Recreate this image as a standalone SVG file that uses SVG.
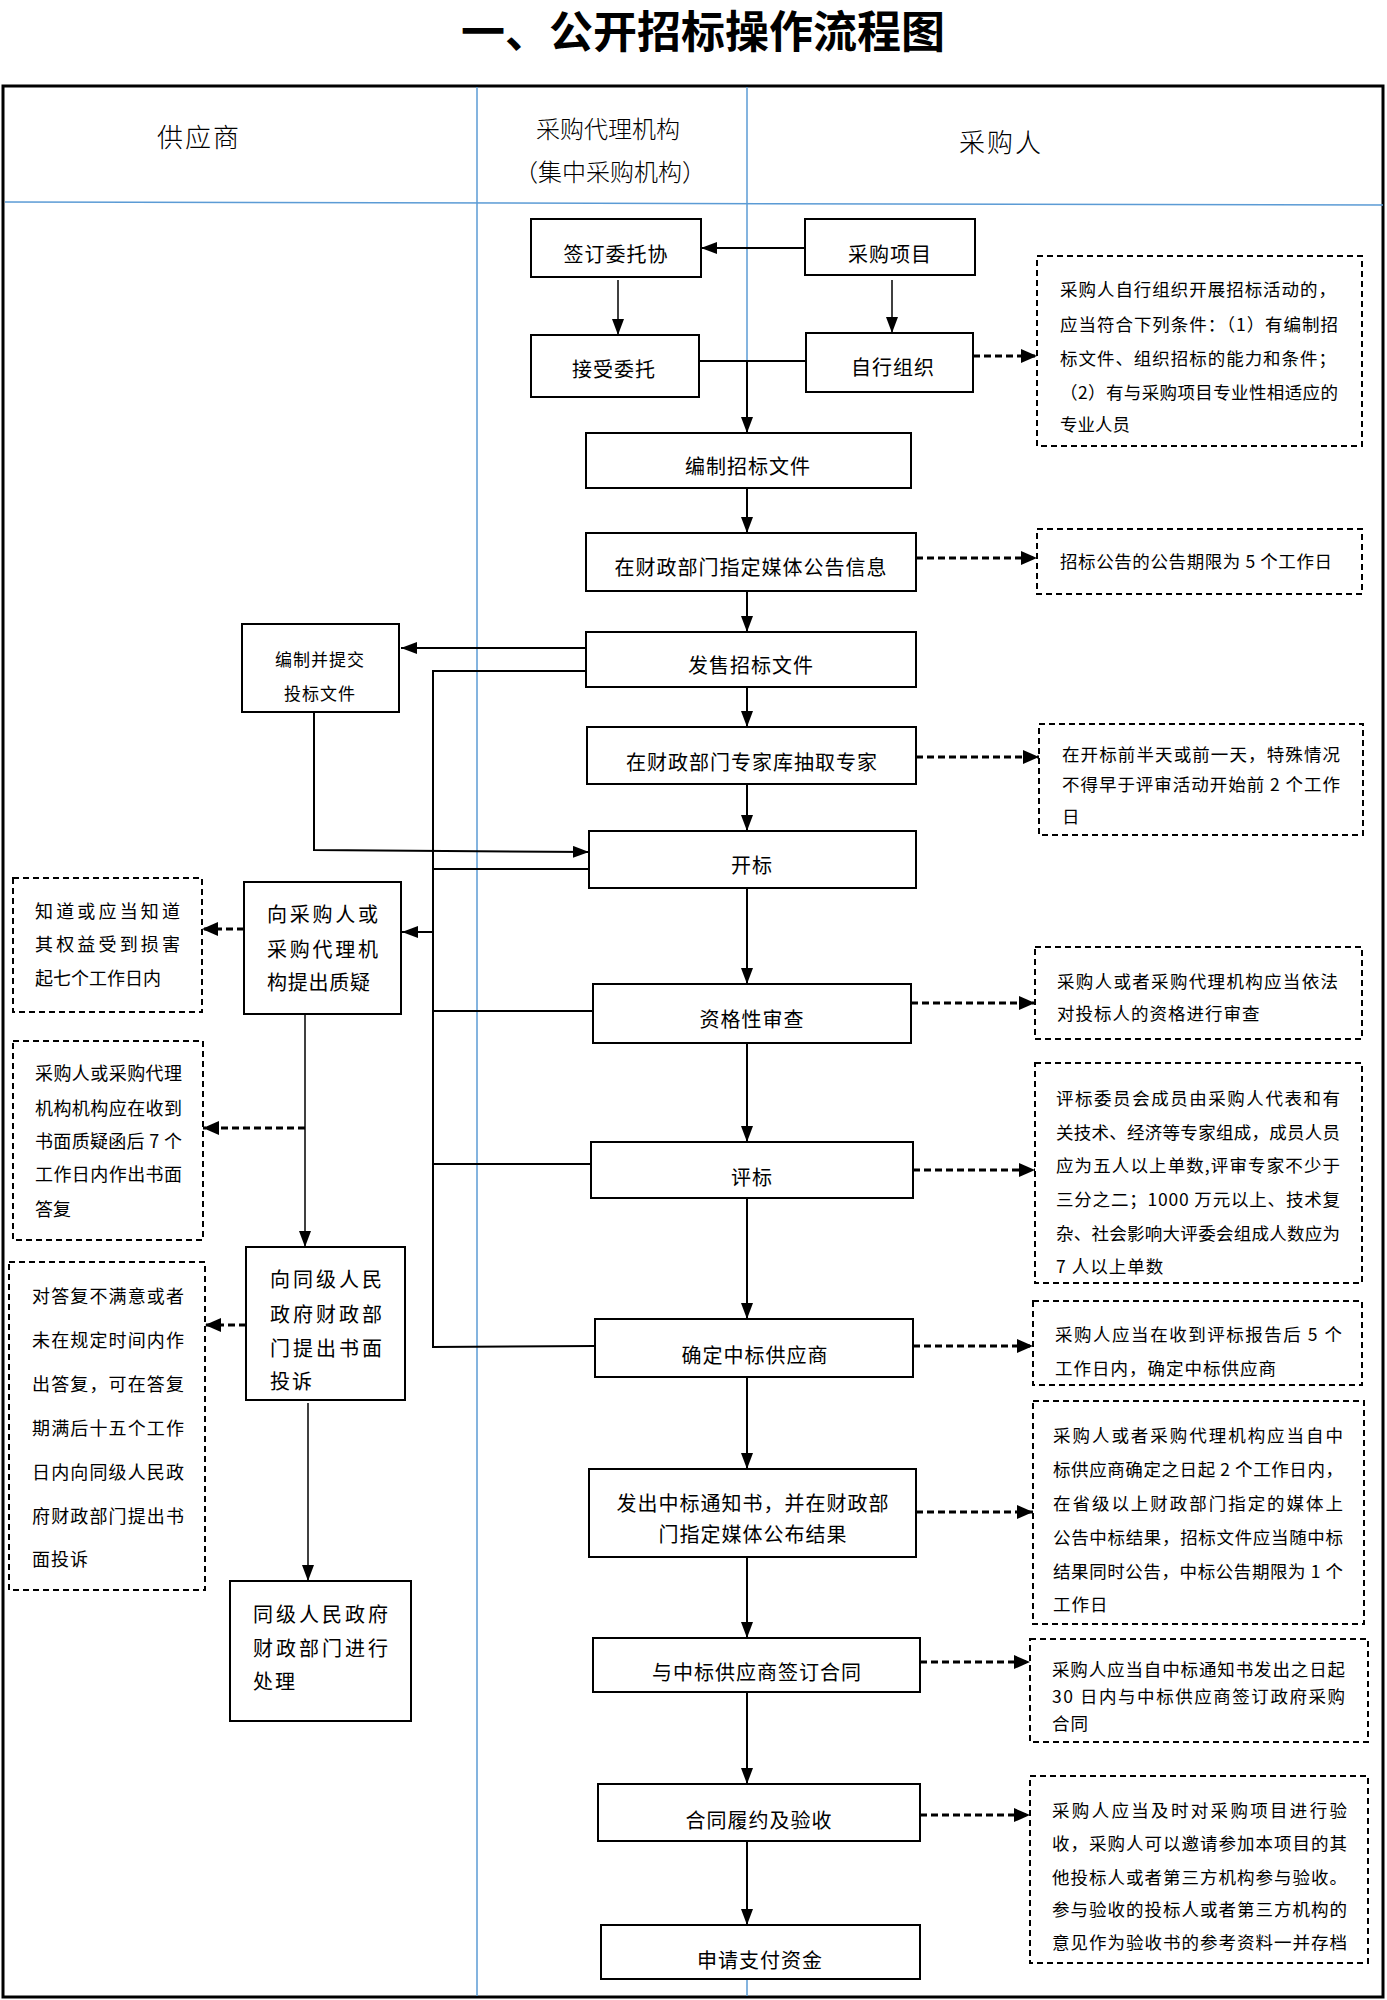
<svg xmlns="http://www.w3.org/2000/svg" width="1387" height="2000" viewBox="0 0 1387 2000">
<style>
text{font-family:"Noto Sans CJK SC","Noto Sans",sans-serif;fill:#000}
.title{font-size:44px;font-weight:bold}
.h{font-size:26px;font-weight:300}
.h2{font-size:24px;font-weight:300}
.n{font-size:20px;letter-spacing:1px}
.ns{font-size:17px}
.d{font-size:17.5px}
.dl{font-size:18px}
.nl{font-size:20px}
.box{fill:#fff;stroke:#000;stroke-width:2}
.dbox{fill:#fff;stroke:#000;stroke-width:2;stroke-dasharray:6 4}
.lane{stroke:#5b9bd5;stroke-width:1.5;fill:none}
.c{stroke:#000;stroke-width:2;fill:none}
.ct{stroke:#000;stroke-width:1.5;fill:none}
.cd{stroke:#000;stroke-width:3;fill:none;stroke-dasharray:7 4}
</style>
<defs>
<marker id="ah" viewBox="0 0 16 12" refX="16" refY="6" markerWidth="16" markerHeight="12" markerUnits="userSpaceOnUse" orient="auto">
<path d="M0,0 L16,6 L0,12 z" fill="#000"/>
</marker>
<marker id="ahd" viewBox="0 0 16 14" refX="16" refY="7" markerWidth="16" markerHeight="14" markerUnits="userSpaceOnUse" orient="auto">
<path d="M0,0 L16,7 L0,14 z" fill="#000"/>
</marker>
</defs>
<rect width="1387" height="2000" fill="#fff"/>
<text class="title" x="703" y="29" text-anchor="middle" dominant-baseline="central">一、公开招标操作流程图</text>
<g id="frame">
<rect x="3" y="86" width="1380" height="1911" fill="none" stroke="#000" stroke-width="3"/>
<line class="lane" x1="5" y1="202" x2="1383" y2="205"/>
<line class="lane" x1="477" y1="87" x2="477" y2="1996"/>
<line class="lane" x1="747" y1="87" x2="747" y2="1996"/>
<text class="h" x="199" y="135" text-anchor="middle" dominant-baseline="central" letter-spacing="2">供应商</text>
<text class="h2" x="608" y="127" text-anchor="middle" dominant-baseline="central">采购代理机构</text>
<text class="h2" x="610" y="170" text-anchor="middle" dominant-baseline="central">（集中采购机构）</text>
<text class="h" x="1001" y="140" text-anchor="middle" dominant-baseline="central" letter-spacing="2">采购人</text>
</g>
<g id="connectors">
<line class="c" x1="805" y1="248" x2="701" y2="248" marker-end="url(#ah)"/>
<line class="ct" x1="618" y1="280" x2="618" y2="335" marker-end="url(#ah)"/>
<line class="ct" x1="892" y1="280" x2="892" y2="333" marker-end="url(#ah)"/>
<line class="c" x1="699" y1="361" x2="806" y2="361"/>
<line class="c" x1="747" y1="361" x2="747" y2="433" marker-end="url(#ah)"/>
<line class="cd" x1="973" y1="356" x2="1037" y2="356" marker-end="url(#ahd)"/>
<line class="c" x1="747" y1="488" x2="747" y2="533" marker-end="url(#ah)"/>
<line class="cd" x1="916" y1="558" x2="1037" y2="558" marker-end="url(#ahd)"/>
<line class="c" x1="747" y1="591" x2="747" y2="632" marker-end="url(#ah)"/>
<line class="c" x1="586" y1="648" x2="401" y2="648" marker-end="url(#ah)"/>
<polyline class="c" points="586,671 433,671 433,1347 595,1346"/>
<line class="c" x1="433" y1="869" x2="589" y2="869"/>
<line class="c" x1="433" y1="932" x2="402" y2="932" marker-end="url(#ah)"/>
<line class="c" x1="433" y1="1011" x2="593" y2="1011"/>
<line class="c" x1="433" y1="1164" x2="591" y2="1164"/>
<line class="c" x1="747" y1="687" x2="747" y2="727" marker-end="url(#ah)"/>
<line class="cd" x1="916" y1="757" x2="1039" y2="757" marker-end="url(#ahd)"/>
<line class="c" x1="747" y1="784" x2="747" y2="831" marker-end="url(#ah)"/>
<polyline class="c" points="314,712 314,850 589,852" marker-end="url(#ah)"/>
<line class="c" x1="747" y1="888" x2="747" y2="984" marker-end="url(#ah)"/>
<line class="cd" x1="911" y1="1003" x2="1035" y2="1003" marker-end="url(#ahd)"/>
<line class="c" x1="747" y1="1043" x2="747" y2="1142" marker-end="url(#ah)"/>
<line class="cd" x1="913" y1="1170" x2="1035" y2="1170" marker-end="url(#ahd)"/>
<line class="c" x1="747" y1="1198" x2="747" y2="1319" marker-end="url(#ah)"/>
<line class="cd" x1="913" y1="1346" x2="1033" y2="1346" marker-end="url(#ahd)"/>
<line class="c" x1="747" y1="1377" x2="747" y2="1469" marker-end="url(#ah)"/>
<line class="cd" x1="916" y1="1512" x2="1033" y2="1512" marker-end="url(#ahd)"/>
<line class="c" x1="747" y1="1557" x2="747" y2="1638" marker-end="url(#ah)"/>
<line class="cd" x1="920" y1="1662" x2="1030" y2="1662" marker-end="url(#ahd)"/>
<line class="c" x1="747" y1="1692" x2="747" y2="1784" marker-end="url(#ah)"/>
<line class="cd" x1="920" y1="1815" x2="1030" y2="1815" marker-end="url(#ahd)"/>
<line class="c" x1="747" y1="1841" x2="747" y2="1925" marker-end="url(#ah)"/>
<line class="cd" x1="244" y1="929" x2="202" y2="929" marker-end="url(#ahd)"/>
<line class="ct" x1="305" y1="1014" x2="305" y2="1247" marker-end="url(#ah)"/>
<line class="cd" x1="305" y1="1128" x2="203" y2="1128" marker-end="url(#ahd)"/>
<line class="cd" x1="246" y1="1325" x2="205" y2="1325" marker-end="url(#ahd)"/>
<line class="ct" x1="308" y1="1403" x2="308" y2="1581" marker-end="url(#ah)"/>
</g>
<g id="n-qianding"><rect class="box" x="531" y="219" width="170" height="58"/><text class="n" x="616" y="253" text-anchor="middle" dominant-baseline="central">签订委托协</text></g>
<g id="n-xiangmu"><rect class="box" x="805" y="219" width="170" height="56"/><text class="n" x="890" y="253" text-anchor="middle" dominant-baseline="central">采购项目</text></g>
<g id="n-jieshou"><rect class="box" x="531" y="335" width="168" height="62"/><text class="n" x="614" y="368" text-anchor="middle" dominant-baseline="central">接受委托</text></g>
<g id="n-zixing"><rect class="box" x="806" y="333" width="167" height="59"/><text class="n" x="893" y="366" text-anchor="middle" dominant-baseline="central">自行组织</text></g>
<g id="n-bianzhi"><rect class="box" x="586" y="433" width="325" height="55"/><text class="n" x="748" y="465" text-anchor="middle" dominant-baseline="central">编制招标文件</text></g>
<g id="n-gonggao"><rect class="box" x="586" y="533" width="330" height="58"/><text class="n" x="751" y="566" text-anchor="middle" dominant-baseline="central">在财政部门指定媒体公告信息</text></g>
<g id="n-fashou"><rect class="box" x="586" y="632" width="330" height="55"/><text class="n" x="751" y="664" text-anchor="middle" dominant-baseline="central">发售招标文件</text></g>
<g id="n-zhuanjia"><rect class="box" x="587" y="727" width="329" height="57"/><text class="n" x="752" y="761" text-anchor="middle" dominant-baseline="central">在财政部门专家库抽取专家</text></g>
<g id="n-kaibiao"><rect class="box" x="589" y="831" width="327" height="57"/><text class="n" x="752" y="864" text-anchor="middle" dominant-baseline="central">开标</text></g>
<g id="n-zige"><rect class="box" x="593" y="984" width="318" height="59"/><text class="n" x="752" y="1018" text-anchor="middle" dominant-baseline="central">资格性审查</text></g>
<g id="n-pingbiao"><rect class="box" x="591" y="1142" width="322" height="56"/><text class="n" x="752" y="1176" text-anchor="middle" dominant-baseline="central">评标</text></g>
<g id="n-queding"><rect class="box" x="595" y="1319" width="318" height="58"/><text class="n" x="755" y="1354" text-anchor="middle" dominant-baseline="central">确定中标供应商</text></g>
<g id="n-fachu"><rect class="box" x="589" y="1469" width="327" height="88"/><text class="n" x="753" y="1502" text-anchor="middle" dominant-baseline="central">发出中标通知书，并在财政部</text><text class="n" x="753" y="1533" text-anchor="middle" dominant-baseline="central">门指定媒体公布结果</text></g>
<g id="n-hetong"><rect class="box" x="593" y="1638" width="327" height="54"/><text class="n" x="757" y="1671" text-anchor="middle" dominant-baseline="central">与中标供应商签订合同</text></g>
<g id="n-lvyue"><rect class="box" x="598" y="1784" width="322" height="57"/><text class="n" x="759" y="1819" text-anchor="middle" dominant-baseline="central">合同履约及验收</text></g>
<g id="n-zhifu"><rect class="box" x="601" y="1925" width="319" height="54"/><text class="n" x="760" y="1959" text-anchor="middle" dominant-baseline="central">申请支付资金</text></g>
<g id="n-toubiao"><rect class="box" x="242" y="624" width="157" height="88"/><text class="ns" x="320" y="658" text-anchor="middle" dominant-baseline="central" letter-spacing="1">编制并提交</text><text class="ns" x="320" y="692" text-anchor="middle" dominant-baseline="central" letter-spacing="1">投标文件</text></g>
<g id="n-zhiyi"><rect class="box" x="244" y="882" width="157" height="132"/>
<text class="nl" x="267" y="913" dominant-baseline="central" textLength="111" lengthAdjust="spacing">向采购人或</text>
<text class="nl" x="267" y="948" dominant-baseline="central" textLength="111" lengthAdjust="spacing">采购代理机</text>
<text class="nl" x="267" y="981" dominant-baseline="central" textLength="103" lengthAdjust="spacing">构提出质疑</text></g>
<g id="n-tousu"><rect class="box" x="246" y="1247" width="159" height="153"/>
<text class="nl" x="270" y="1278" dominant-baseline="central" textLength="112" lengthAdjust="spacing">向同级人民</text>
<text class="nl" x="270" y="1313" dominant-baseline="central" textLength="112" lengthAdjust="spacing">政府财政部</text>
<text class="nl" x="270" y="1347" dominant-baseline="central" textLength="112" lengthAdjust="spacing">门提出书面</text>
<text class="nl" x="270" y="1380" dominant-baseline="central" letter-spacing="2">投诉</text></g>
<g id="n-chuli"><rect class="box" x="230" y="1581" width="181" height="140"/>
<text class="nl" x="253" y="1613" dominant-baseline="central" textLength="135" lengthAdjust="spacing">同级人民政府</text>
<text class="nl" x="253" y="1647" dominant-baseline="central" textLength="135" lengthAdjust="spacing">财政部门进行</text>
<text class="nl" x="253" y="1680" dominant-baseline="central" letter-spacing="2">处理</text></g>
<g id="d-zixing"><rect class="dbox" x="1037" y="256" width="325" height="190"/>
<text class="d" x="1060" y="288" dominant-baseline="central" textLength="276" lengthAdjust="spacing">采购人自行组织开展招标活动的，</text>
<text class="d" x="1060" y="323" dominant-baseline="central" textLength="278" lengthAdjust="spacing">应当符合下列条件：（1）有编制招</text>
<text class="d" x="1060" y="357" dominant-baseline="central" textLength="276" lengthAdjust="spacing">标文件、组织招标的能力和条件；</text>
<text class="d" x="1060" y="391" dominant-baseline="central" textLength="278" lengthAdjust="spacing">（2）有与采购项目专业性相适应的</text>
<text class="d" x="1060" y="423" dominant-baseline="central">专业人员</text></g>
<g id="d-gonggao"><rect class="dbox" x="1037" y="529" width="325" height="65"/>
<text class="d" x="1060" y="560" dominant-baseline="central" textLength="272" lengthAdjust="spacing">招标公告的公告期限为 5 个工作日</text></g>
<g id="d-zhuanjia"><rect class="dbox" x="1039" y="724" width="324" height="111"/>
<text class="d" x="1062" y="753" dominant-baseline="central" textLength="278" lengthAdjust="spacing">在开标前半天或前一天，特殊情况</text>
<text class="d" x="1062" y="783" dominant-baseline="central" textLength="278" lengthAdjust="spacing">不得早于评审活动开始前 2 个工作</text>
<text class="d" x="1062" y="815" dominant-baseline="central">日</text></g>
<g id="d-zige"><rect class="dbox" x="1035" y="947" width="327" height="92"/>
<text class="d" x="1057" y="980" dominant-baseline="central" textLength="281" lengthAdjust="spacing">采购人或者采购代理机构应当依法</text>
<text class="d" x="1057" y="1012" dominant-baseline="central" letter-spacing="1">对投标人的资格进行审查</text></g>
<g id="d-pingbiao"><rect class="dbox" x="1035" y="1063" width="327" height="220"/>
<text class="d" x="1056" y="1097" dominant-baseline="central" textLength="284" lengthAdjust="spacing">评标委员会成员由采购人代表和有</text>
<text class="d" x="1056" y="1131" dominant-baseline="central" textLength="284" lengthAdjust="spacing">关技术、经济等专家组成，成员人员</text>
<text class="d" x="1056" y="1164" dominant-baseline="central" textLength="284" lengthAdjust="spacing">应为五人以上单数,评审专家不少于</text>
<text class="d" x="1056" y="1198" dominant-baseline="central" textLength="284" lengthAdjust="spacing">三分之二；1000 万元以上、技术复</text>
<text class="d" x="1056" y="1232" dominant-baseline="central" textLength="284" lengthAdjust="spacing">杂、社会影响大评委会组成人数应为</text>
<text class="d" x="1056" y="1265" dominant-baseline="central" letter-spacing="1">7 人以上单数</text></g>
<g id="d-queding"><rect class="dbox" x="1033" y="1301" width="329" height="84"/>
<text class="d" x="1055" y="1333" dominant-baseline="central" textLength="287" lengthAdjust="spacing">采购人应当在收到评标报告后 5 个</text>
<text class="d" x="1055" y="1367" dominant-baseline="central" letter-spacing="1">工作日内，确定中标供应商</text></g>
<g id="d-fachu"><rect class="dbox" x="1033" y="1401" width="331" height="223"/>
<text class="d" x="1053" y="1434" dominant-baseline="central" textLength="290" lengthAdjust="spacing">采购人或者采购代理机构应当自中</text>
<text class="d" x="1053" y="1468" dominant-baseline="central" textLength="290" lengthAdjust="spacing">标供应商确定之日起 2 个工作日内，</text>
<text class="d" x="1053" y="1502" dominant-baseline="central" textLength="290" lengthAdjust="spacing">在省级以上财政部门指定的媒体上</text>
<text class="d" x="1053" y="1536" dominant-baseline="central" textLength="290" lengthAdjust="spacing">公告中标结果，招标文件应当随中标</text>
<text class="d" x="1053" y="1570" dominant-baseline="central" textLength="290" lengthAdjust="spacing">结果同时公告，中标公告期限为 1 个</text>
<text class="d" x="1053" y="1603" dominant-baseline="central" letter-spacing="1">工作日</text></g>
<g id="d-hetong"><rect class="dbox" x="1030" y="1639" width="338" height="103"/>
<text class="d" x="1052" y="1668" dominant-baseline="central" textLength="293" lengthAdjust="spacing">采购人应当自中标通知书发出之日起</text>
<text class="d" x="1052" y="1695" dominant-baseline="central" textLength="293" lengthAdjust="spacing">30 日内与中标供应商签订政府采购</text>
<text class="d" x="1052" y="1722" dominant-baseline="central" letter-spacing="1">合同</text></g>
<g id="d-lvyue"><rect class="dbox" x="1030" y="1776" width="338" height="187"/>
<text class="d" x="1052" y="1809" dominant-baseline="central" textLength="295" lengthAdjust="spacing">采购人应当及时对采购项目进行验</text>
<text class="d" x="1052" y="1842" dominant-baseline="central" textLength="295" lengthAdjust="spacing">收，采购人可以邀请参加本项目的其</text>
<text class="d" x="1052" y="1876" dominant-baseline="central" textLength="295" lengthAdjust="spacing">他投标人或者第三方机构参与验收。</text>
<text class="d" x="1052" y="1908" dominant-baseline="central" textLength="295" lengthAdjust="spacing">参与验收的投标人或者第三方机构的</text>
<text class="d" x="1052" y="1941" dominant-baseline="central" textLength="295" lengthAdjust="spacing">意见作为验收书的参考资料一并存档</text></g>
<g id="d-zhiyi"><rect class="dbox" x="13" y="878" width="189" height="134"/>
<text class="dl" x="35" y="910" dominant-baseline="central" textLength="145" lengthAdjust="spacing">知道或应当知道</text>
<text class="dl" x="35" y="943" dominant-baseline="central" textLength="145" lengthAdjust="spacing">其权益受到损害</text>
<text class="dl" x="35" y="977" dominant-baseline="central">起七个工作日内</text></g>
<g id="d-dafu"><rect class="dbox" x="13" y="1041" width="190" height="199"/>
<text class="dl" x="35" y="1072" dominant-baseline="central" textLength="147" lengthAdjust="spacing">采购人或采购代理</text>
<text class="dl" x="35" y="1107" dominant-baseline="central" textLength="147" lengthAdjust="spacing">机构机构应在收到</text>
<text class="dl" x="35" y="1140" dominant-baseline="central" textLength="147" lengthAdjust="spacing">书面质疑函后 7 个</text>
<text class="dl" x="35" y="1173" dominant-baseline="central" textLength="147" lengthAdjust="spacing">工作日内作出书面</text>
<text class="dl" x="35" y="1208" dominant-baseline="central">答复</text></g>
<g id="d-tousu"><rect class="dbox" x="9" y="1262" width="196" height="328"/>
<text class="dl" x="32" y="1295" dominant-baseline="central" textLength="152" lengthAdjust="spacing">对答复不满意或者</text>
<text class="dl" x="32" y="1339" dominant-baseline="central" textLength="152" lengthAdjust="spacing">未在规定时间内作</text>
<text class="dl" x="32" y="1383" dominant-baseline="central" textLength="152" lengthAdjust="spacing">出答复，可在答复</text>
<text class="dl" x="32" y="1427" dominant-baseline="central" textLength="152" lengthAdjust="spacing">期满后十五个工作</text>
<text class="dl" x="32" y="1471" dominant-baseline="central" textLength="152" lengthAdjust="spacing">日内向同级人民政</text>
<text class="dl" x="32" y="1515" dominant-baseline="central" textLength="152" lengthAdjust="spacing">府财政部门提出书</text>
<text class="dl" x="32" y="1558" dominant-baseline="central" letter-spacing="1">面投诉</text></g>
</svg>
